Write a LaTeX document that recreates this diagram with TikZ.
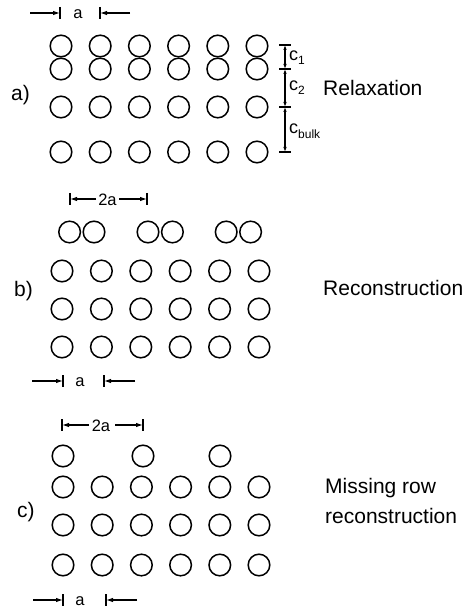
\documentclass[tikz,border=0pt]{standalone}
\usepackage{fontspec}
\setmainfont{Liberation Sans}
\usetikzlibrary{arrows.meta}
\begin{document}
\begin{tikzpicture}[x=1pt,y=-1pt,
  atom/.style={circle,draw,line width=1.5pt,minimum size=21.6pt,inner sep=0pt},
  dimarr/.style={line width=1.1pt,-{Latex[length=7pt,width=4.5pt]}},
  dimboth/.style={line width=1.1pt,{Latex[length=5pt,width=3.5pt]}-{Latex[length=5pt,width=3.5pt]}},
  tick/.style={line width=1.3pt},
  big/.style={font=\fontsize{21}{25}\selectfont,inner sep=0pt},
  dimtxt/.style={font=\fontsize{16.5}{18}\selectfont,inner sep=0pt},
  ctxt/.style={font=\fontsize{18}{20}\selectfont,inner sep=0pt,anchor=west}]
\useasboundingbox (0,0) rectangle (470,609);

% ---------- panel a ----------
\foreach \r/\y in {1/46,2/69,3/107,4/152}
  \foreach \c/\x in {1/61,2/100.2,3/139.4,4/178.6,5/217.8,6/257}
    \node[atom] (a\r\c) at (\x,\y) {};
\node[big,anchor=west] (la) at (11,95) {a)};
\node[big,anchor=west] (relax) at (323,88) {Relaxation};
% top a dimension
\coordinate (aa1) at (30,13);  \coordinate (aa2) at (60,13);
\coordinate (aa3) at (130,13); \coordinate (aa4) at (100,13);
\draw[dimarr] (aa1) -- (aa2);
\draw[dimarr] (aa3) -- (aa4);
\draw[tick] (60,7) -- (60,19);
\draw[tick] (100,7) -- (100,19);
\node[dimtxt] (da) at (78,14) {a};
% vertical dimensions
\foreach \i/\y in {1/45,2/69,3/107,4/152}{
  \coordinate (v\i) at (285,\y);
  \draw[tick] (279,\y) -- (291,\y);
}
\draw[dimboth] (v1) -- (v2);
\draw[dimboth] (v2) -- (v3);
\draw[dimboth] (v3) -- (v4);
\node[ctxt] (c1) at (289,58) {c\raisebox{-0.45ex}{\fontsize{12}{12}\selectfont 1}};
\node[ctxt] (c2) at (289,88) {c\raisebox{-0.45ex}{\fontsize{12}{12}\selectfont 2}};
\node[ctxt] (cb) at (289,131) {c\raisebox{-0.5ex}{\fontsize{12}{12}\selectfont bulk}};

% ---------- panel b ----------
\foreach \p/\x in {1/81.8,2/160.2,3/238.4}{
  \node[atom] (bp\p l) at (\x-12.2,232) {};
  \node[atom] (bp\p r) at (\x+12.2,232) {};
}
\foreach \r/\y in {2/271,3/309,4/347}
  \foreach \c/\x in {1/62,2/101.4,3/140.8,4/180.2,5/219.6,6/259}
    \node[atom] (b\r\c) at (\x,\y) {};
\node[big,anchor=west] (lb) at (14,291) {b)};
\node[big,anchor=west] (recon) at (323,288) {Reconstruction};
% 2a dimension
\coordinate (b2a1) at (70,199); \coordinate (b2a2) at (96,199);
\coordinate (b2a3) at (147,199); \coordinate (b2a4) at (119,199);
\draw[dimarr] (b2a2) -- (b2a1);
\draw[dimarr] (b2a4) -- (b2a3);
\draw[tick] (70,193) -- (70,205);
\draw[tick] (147,193) -- (147,205);
\node[dimtxt] (bt2a) at (107.5,200) {2a};
% bottom a dimension
\coordinate (ba1) at (32,381);  \coordinate (ba2) at (63,381);
\coordinate (ba3) at (135,381); \coordinate (ba4) at (104,381);
\draw[dimarr] (ba1) -- (ba2);
\draw[dimarr] (ba3) -- (ba4);
\draw[tick] (63,375) -- (63,387);
\draw[tick] (104,375) -- (104,387);
\node[dimtxt] (bta) at (80,382) {a};

% ---------- panel c ----------
\foreach \c/\x in {1/63,3/143,5/220}
  \node[atom] (c1\c) at (\x,456) {};
\foreach \r/\y in {2/487,3/525,4/565}
  \foreach \c/\x in {1/63,2/102.2,3/141.4,4/180.6,5/219.8,6/259}
    \node[atom] (c\r\c) at (\x,\y) {};
\node[big,anchor=west] (lc) at (17,512) {c)};
\node[big,anchor=west] (miss1) at (325,488) {Missing row};
\node[big,anchor=west] (miss2) at (325,516) {reconstruction};
% 2a dimension
\coordinate (c2a1) at (62,425); \coordinate (c2a2) at (89,425);
\coordinate (c2a3) at (143,425); \coordinate (c2a4) at (115,425);
\draw[dimarr] (c2a2) -- (c2a1);
\draw[dimarr] (c2a4) -- (c2a3);
\draw[tick] (62,419) -- (62,431);
\draw[tick] (143,419) -- (143,431);
\node[dimtxt] (ct2a) at (101,426) {2a};
% bottom a dimension
\coordinate (ca1) at (33,600);  \coordinate (ca2) at (63,600);
\coordinate (ca3) at (137,600); \coordinate (ca4) at (106,600);
\draw[dimarr] (ca1) -- (ca2);
\draw[dimarr] (ca3) -- (ca4);
\draw[tick] (63,594) -- (63,606);
\draw[tick] (106,594) -- (106,606);
\node[dimtxt] (cta) at (80,601) {a};
\end{tikzpicture}
\end{document}
